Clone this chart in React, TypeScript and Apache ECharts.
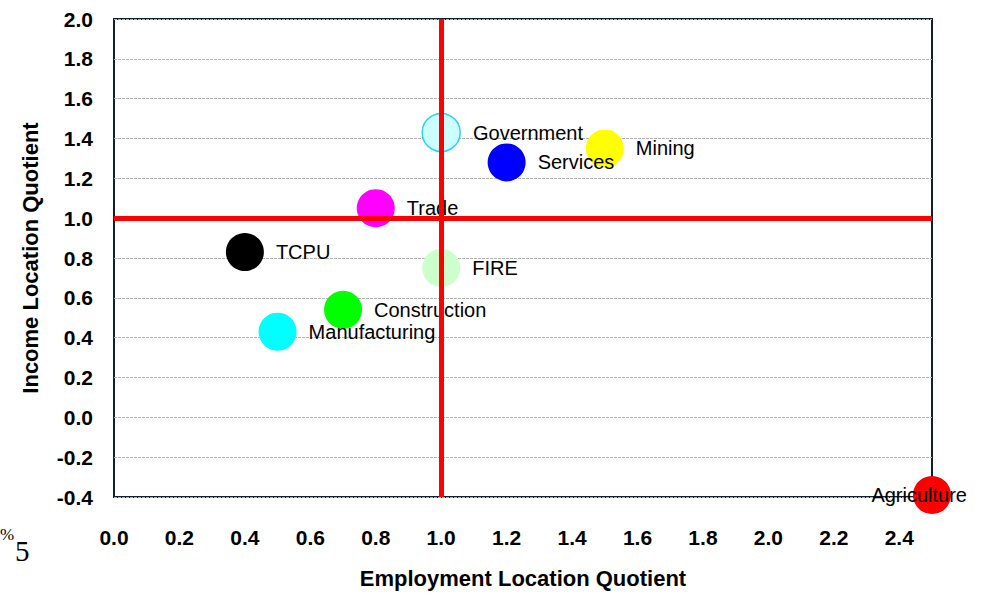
import React, { useEffect, useRef } from "react";
import * as echarts from "echarts";

const sectors = ["Government", "Services", "Mining", "Trade", "FIRE", "TCPU", "Construction", "Manufacturing", "Agriculture"];
const employmentLQ = [1.0, 1.2, 1.5, 0.8, 1.0, 0.4, 0.7, 0.5, 2.5];
const incomeLQ = [1.43, 1.28, 1.35, 1.05, 0.75, 0.83, 0.54, 0.43, -0.39];
const fillColors = ["#CCFFFF", "#0000FF", "#FFFF00", "#FF00FF", "#CCFFCC", "#000000", "#00FF00", "#00FFFF", "#FF0000"];
const borderColors = ["#33CCFF", null, null, null, null, null, null, null, null];
const refLineX = 1.0;
const refLineY = 1.0;

const FONT = "'Liberation Sans', Arial, sans-serif";

export default function App() {
  const ref = useRef<HTMLDivElement>(null);
  useEffect(() => {
    if (!ref.current) return;
    const chart = echarts.init(ref.current, null, { renderer: "svg" });
    const data = sectors.map((name, i) => {
      const item: any = {
        name,
        value: [employmentLQ[i], incomeLQ[i]],
        itemStyle: {
          color: fillColors[i],
          opacity: 1,
          borderColor: borderColors[i] || fillColors[i],
          borderWidth: borderColors[i] ? 1.5 : 0,
        },
      };
      if (name === "Agriculture") {
        item.label = { position: "left", distance: -54 };
      }
      return item;
    });
    chart.setOption({
      animation: false,
      backgroundColor: "#ffffff",
      grid: {
        left: 114,
        top: 19,
        right: 55,
        bottom: 99,
        show: true,
        borderColor: "#102030",
        borderWidth: 2,
        backgroundColor: "transparent",
      },
      xAxis: {
        type: "value",
        min: 0,
        max: 2.5,
        interval: 0.2,
        name: "Employment Location Quotient",
        nameLocation: "middle",
        nameGap: 70,
        nameTextStyle: { fontFamily: FONT, fontSize: 22, fontWeight: "bold", color: "#000" },
        axisLine: { show: false },
        axisTick: { show: false },
        splitLine: { show: false },
        axisLabel: {
          margin: 30,
          showMaxLabel: false,
          fontFamily: FONT,
          fontSize: 21,
          fontWeight: "bold",
          color: "#000",
          formatter: (v: number) => v.toFixed(1),
        },
      },
      yAxis: {
        type: "value",
        min: -0.4,
        max: 2.0,
        interval: 0.2,
        name: "Income Location Quotient",
        nameLocation: "middle",
        nameGap: 73,
        nameTextStyle: { fontFamily: FONT, fontSize: 22, fontWeight: "bold", color: "#000" },
        axisLine: { show: false },
        axisTick: { show: false },
        splitLine: { show: true, lineStyle: { color: "#b4b4b4", type: [3, 1], width: 1 } },
        axisLabel: {
          margin: 21,
          fontFamily: FONT,
          fontSize: 21,
          fontWeight: "bold",
          color: "#000",
          formatter: (v: number) => v.toFixed(1),
        },
      },
      series: [
        {
          type: "scatter",
          z: 1,
          data: [],
          markLine: {
            silent: true,
            symbol: "none",
            animation: false,
            label: { show: false },
            lineStyle: { color: "#FF0000", width: 5, type: "solid", opacity: 1 },
            data: [{ xAxis: refLineX }, { yAxis: refLineY }],
          },
        },
        {
          type: "scatter",
          z: 3,
          clip: false,
          symbolSize: 38,
          itemStyle: { opacity: 1 },
          data,
          label: {
            show: true,
            position: "right",
            distance: 12,
            formatter: "{b}",
            fontFamily: FONT,
            fontSize: 20,
            color: "#000",
            opacity: 1,
          },
          labelLayout: { hideOverlap: false },
        },
      ],
      graphic: [
        { type: "text", left: 0, top: 526, style: { text: "%", fontFamily: "'Liberation Serif', serif", fontSize: 17, fill: "#000" } },
        { type: "text", left: 15, top: 536, style: { text: "5", fontFamily: "'Liberation Serif', serif", fontSize: 29, fill: "#000" } },
      ],
    });
    return () => chart.dispose();
  }, []);
  return <div ref={ref} style={{ position: "fixed", left: 0, top: 0, width: 987, height: 596 }} />;
}
